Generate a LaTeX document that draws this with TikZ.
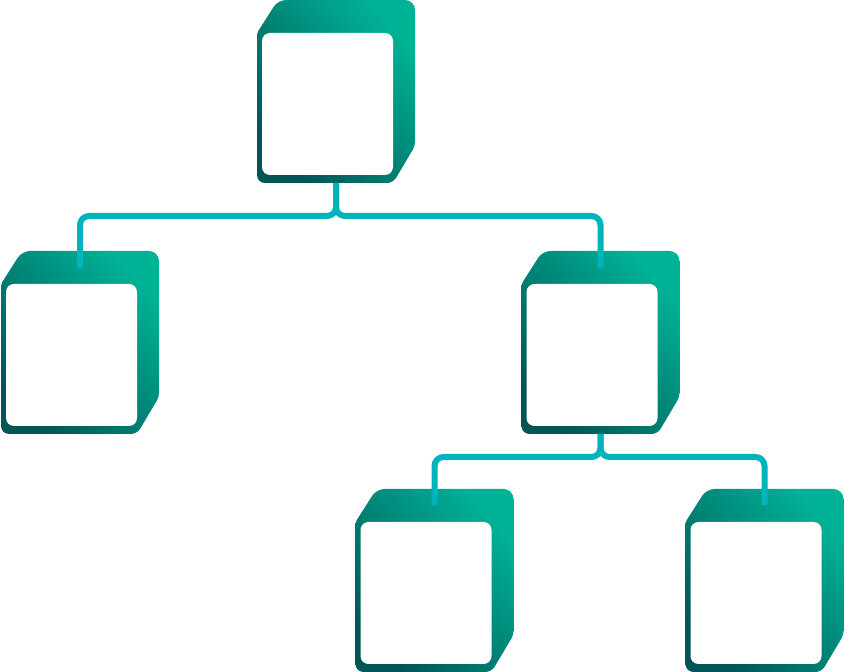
\documentclass[tikz,border=0pt]{standalone}
\usetikzlibrary{calc}
\definecolor{cTop}{HTML}{00B296}
\definecolor{cBot}{HTML}{005656}
\definecolor{cLink}{HTML}{00B3BC}
\begin{document}
\begin{tikzpicture}[x=1pt,y=1pt,
  cubebox/.style={minimum width=158pt, minimum height=183pt, inner sep=0pt, outer sep=0pt,
    path picture={
      \shade[top color=cTop, bottom color=cBot, shading angle=-48]
        ([xshift=80pt]path picture bounding box.north west)
        [rounded corners=10pt] -- (path picture bounding box.north east)
        [rounded corners=4pt] -- ([yshift=37pt]path picture bounding box.south east)
        [rounded corners=6pt] -- ([xshift=-22pt]path picture bounding box.south east)
        [rounded corners=8pt] -- (path picture bounding box.south west)
        [rounded corners=2pt] -- ([yshift=-33pt]path picture bounding box.north west)
        [rounded corners=8pt] -- ([xshift=21pt]path picture bounding box.north west)
        [sharp corners] -- cycle;
      \fill[white, rounded corners=8pt]
        ([xshift=5pt,yshift=-33pt]path picture bounding box.north west)
        rectangle ([xshift=-22pt,yshift=8pt]path picture bounding box.south east);
    }},
  link/.style={draw=cLink, line width=6pt, rounded corners=9pt}]
\useasboundingbox (0,0) rectangle (844,672);
\node[cubebox] (top) at (336,580.5) {};
\node[cubebox] (left) at (80,329.5) {};
\node[cubebox] (mid) at (600.5,329.5) {};
\node[cubebox] (bl) at (434.5,91.5) {};
\node[cubebox] (br) at (764.5,91.5) {};
\coordinate (j1) at ($(top.south)+(0,-33)$);
\coordinate (j2) at ($(mid.south)+(0,-23)$);
\draw[link] ([yshift=-17pt]left.north) |- (j1) -- (top.south);
\draw[link] ([yshift=-17pt]mid.north) |- (j1) -- (top.south);
\draw[link] ([yshift=-16pt]bl.north) |- (j2) -- (mid.south);
\draw[link] ([yshift=-16pt]br.north) |- (j2) -- (mid.south);
\end{tikzpicture}
\end{document}
